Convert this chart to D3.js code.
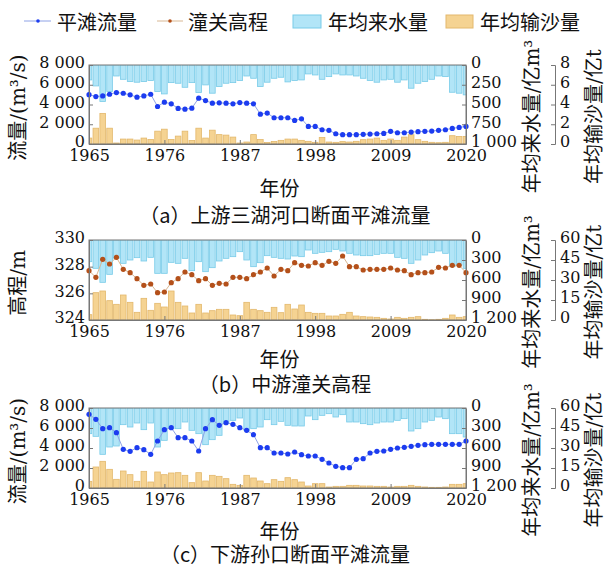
<!DOCTYPE html>
<html><head><meta charset="utf-8">
<script src="https://cdn.jsdelivr.net/npm/d3@7"></script>
<style>
html,body{margin:0;padding:0;background:#fff;}
</style>
</head><body>
<svg id="chart" width="608" height="567"></svg>
<script>
// ---------- data ----------
const years = d3.range(1965, 2021);
const xTicks = [1965, 1976, 1987, 1998, 2009, 2020];

// (a) 三湖河口
const flowA = [5000,4800,4870,5040,5210,5140,4975,4740,4870,5040,3800,4240,4070,3600,3530,3630,4640,4400,4130,4170,4130,4070,4200,4130,4070,3020,3130,2660,2660,2660,2390,2550,1780,1780,1445,1380,1040,940,940,940,975,1010,1040,1075,1280,1140,1140,1210,1245,1280,1310,1380,1445,1580,1680,1780];
const waterA = [189,265,462,336,139,181,210,218,210,197,336,366,223,231,282,223,349,252,357,273,231,223,197,139,168,273,218,168,155,214,197,189,113,126,181,147,113,126,126,139,168,197,218,189,181,218,189,294,231,210,181,139,147,345,357,378];
const sedA = [0.6,1.6,3.1,1.6,0.1,0.5,0.5,0.4,0.6,0.45,1.3,1.5,0.45,0.8,1.3,0.35,1.6,0.6,1.4,0.95,0.9,0.7,0.1,0.2,0.95,0.45,0.15,0.25,0.37,0.5,0.5,0.37,0.27,0.17,0.67,0.2,0.17,0.24,0.2,0.27,0.44,0.5,0.6,0.37,0.5,0.37,0.7,0.94,0.44,0.27,0.17,0.13,0.17,0.84,0.77,0.77];

// (b) 潼关高程
const elevB = [327.7,327.2,328.55,328.2,328.7,327.8,327.55,327.1,326.6,326.7,326.05,326.1,326.8,327.1,327.6,327.4,326.95,327.1,326.6,326.75,326.7,327.2,327.2,327.1,327.4,327.6,327.9,327.3,327.8,327.7,328.3,328.1,328.05,328.3,328.1,328.4,328.25,328.8,328.0,328.0,327.75,327.8,327.8,327.8,327.9,327.75,327.7,327.4,327.55,327.55,327.6,327.95,327.9,328.1,328.1,327.55];
const waterB = [325,425,635,515,275,350,300,265,315,260,500,500,335,350,275,460,325,475,415,315,275,250,175,300,400,340,235,260,275,285,240,250,150,200,185,175,140,165,200,225,235,235,215,200,200,260,275,350,300,225,190,165,200,400,375,425];
const sedB = [4,20.5,21.75,14.5,11.75,18.75,13.25,5.75,16.25,7.25,12.5,9.75,21.75,13.25,10.5,5.25,11.75,5.25,7,8,8,3.75,3.25,13.25,8,7,5.75,9.5,5.5,11.75,8.25,11.25,5.75,5,5,3,3,4.25,5.75,3,2.5,2.25,2,1.25,0.75,2,1.25,2,2.5,0.5,0.25,0.5,1.25,3.75,2,2.5];

// (c) 孙口
const flowC = [7370,6870,5930,6030,5530,3870,3670,4030,3830,3370,4700,5830,6030,5030,5030,4700,3700,5930,6830,6270,6530,6370,6030,5770,5330,4030,4030,3500,3500,3400,3600,3330,3200,3200,2870,2500,2170,2030,2030,2870,2930,3500,3670,3700,3870,4000,4070,4170,4270,4330,4370,4370,4370,4370,4370,4700];
const waterC = [385,425,695,585,570,250,285,225,325,225,585,485,310,310,210,335,385,550,475,410,235,185,150,335,310,285,175,250,200,260,270,270,120,175,110,85,135,100,210,210,235,250,225,210,210,185,160,345,310,210,185,135,160,385,385,435];
const sedC = [5,15.75,20,14,6.5,12.75,10,5,12.5,4.5,12,10,11.25,11.5,9.5,4,11.5,5.25,9.5,8.75,7,2.75,2,9.5,7.5,5.25,3.25,6.25,5,7.75,6.25,4.5,1.5,3.25,3.25,0.75,1.25,1.25,2,2,1.5,1.5,1.25,1.25,0.75,1.25,1.25,2,1.25,0.75,0.5,0.5,0.75,2.75,2.75,3.25];

// tick values
const flowTicks = [0, 2000, 4000, 6000, 8000];
const elevTicks = [324, 326, 328, 330];
const waterTicksA = [0, 250, 500, 750, 1000];
const waterTicksBC = [0, 300, 600, 900, 1200];
const sedTicksA = [0, 2, 4, 6, 8];
const sedTicksBC = [0, 15, 30, 45, 60];

// text
const legendNames = ["平滩流量", "潼关高程", "年均来水量", "年均输沙量"];
const captions = ["（a）上游三湖河口断面平滩流量", "（b）中游潼关高程", "（c）下游孙口断面平滩流量"];
const leftTitles = ["流量/(m³/s)", "高程/m", "流量/(m³/s)"];
const waterTitle = "年均来水量/亿m³";
const sedTitle = "年均输沙量/亿t";
const xTitle = "年份";

// ---------- layout & style ----------
const FONT = "'DejaVu Serif','Noto Sans CJK SC',serif";
const CJK = "'Noto Sans CJK SC','DejaVu Serif',sans-serif";
const C = {
  blueFill: "#b2e5f7", blueStroke: "#78cbe8",
  orFill: "#f5d392", orStroke: "#e3b86c",
  flowDot: "#1c3cf0", flowLine: "#8ea2e6",
  elevDot: "#b4501a", elevLine: "#d8b793",
  axis: "#777"
};
const L = 89, R = 466, AX2 = 555;
const panels = [
  {top: 65, bottom: 144, left: [0, 8000], leftTicks: flowTicks, wDom: [0, 1000], wTicks: waterTicksA, sDom: [0, 8], sTicks: sedTicksA,
   line: flowA, water: waterA, sed: sedA, dot: C.flowDot, lc: C.flowLine, xTitleY: 187, capY: 214},
  {top: 240, bottom: 320, left: [324, 330], leftTicks: elevTicks, wDom: [0, 1200], wTicks: waterTicksBC, sDom: [0, 60], sTicks: sedTicksBC,
   line: elevB, water: waterB, sed: sedB, dot: C.elevDot, lc: C.elevLine, xTitleY: 358, capY: 383},
  {top: 408, bottom: 488, left: [0, 8000], leftTicks: flowTicks, wDom: [0, 1200], wTicks: waterTicksBC, sDom: [0, 60], sTicks: sedTicksBC,
   line: flowC, water: waterC, sed: sedC, dot: C.flowDot, lc: C.flowLine, xTitleY: 530, capY: 553}
];

const svg = d3.select("#chart");
const fmt = d => d3.format(",")(d).replace(/,/g, " ");
const x = d3.scaleLinear().domain([1965, 2020]).range([L, R]);
const step = x(1966) - x(1965);
const bw = step * 0.82;

panels.forEach((p, pi) => {
  const g = svg.append("g");
  const yL = d3.scaleLinear().domain(p.left).range([p.bottom, p.top]);
  const yW = d3.scaleLinear().domain(p.wDom).range([p.top, p.bottom]);
  const yS = d3.scaleLinear().domain(p.sDom).range([p.bottom, p.top]);

  const cid = "clip" + pi;
  svg.append("clipPath").attr("id", cid).append("rect")
    .attr("x", L).attr("y", p.top).attr("width", R - L).attr("height", p.bottom - p.top);

  const bars = g.append("g").attr("clip-path", `url(#${cid})`);
  bars.selectAll(".w").data(p.water).join("rect")
    .attr("x", (d, i) => x(years[i]) - bw / 2).attr("width", bw)
    .attr("y", yW(0)).attr("height", d => yW(d) - yW(0))
    .attr("fill", C.blueFill).attr("stroke", C.blueStroke).attr("stroke-width", 0.8);
  bars.selectAll(".s").data(p.sed).join("rect")
    .attr("x", (d, i) => x(years[i]) - bw / 2).attr("width", bw)
    .attr("y", d => yS(d)).attr("height", d => yS(0) - yS(d))
    .attr("fill", C.orFill).attr("stroke", C.orStroke).attr("stroke-width", 0.8);

  // frame
  g.append("rect").attr("x", L).attr("y", p.top).attr("width", R - L).attr("height", p.bottom - p.top)
    .attr("fill", "none").attr("stroke", C.axis).attr("stroke-width", 1);

  // line + dots
  const lineGen = d3.line().x((d, i) => x(years[i])).y(d => yL(d));
  g.append("path").datum(p.line).attr("d", lineGen)
    .attr("fill", "none").attr("stroke", p.lc).attr("stroke-width", 1);
  g.selectAll(".pt").data(p.line).join("circle")
    .attr("cx", (d, i) => x(years[i])).attr("cy", d => yL(d)).attr("r", 2.6)
    .attr("fill", p.dot);

  const styleAxis = (a, vertical) => {
    a.selectAll("path,line").attr("stroke", C.axis);
    a.selectAll("text").attr("font-family", FONT).attr("font-size", 16).attr("fill", "#111");
    if (vertical) a.selectAll("text").attr("dy", "0.18em");
  };
  // left axis
  const aL = g.append("g").attr("transform", `translate(${L},0)`)
    .call(d3.axisLeft(yL).tickValues(p.leftTicks).tickFormat(fmt).tickSizeInner(-4).tickSizeOuter(0).tickPadding(4));
  styleAxis(aL, true);
  // bottom axis
  const aB = g.append("g").attr("transform", `translate(0,${p.bottom})`)
    .call(d3.axisBottom(x).tickValues(xTicks).tickFormat(d3.format("d")).tickSizeInner(-4).tickSizeOuter(0).tickPadding(6));
  styleAxis(aB, false);
  // right axis 1 (water)
  const aR = g.append("g").attr("transform", `translate(${R},0)`)
    .call(d3.axisRight(yW).tickValues(p.wTicks).tickFormat(fmt).tickSizeInner(-4).tickSizeOuter(0).tickPadding(5));
  styleAxis(aR, true);
  // right axis 2 (sediment)
  const aR2 = g.append("g").attr("transform", `translate(${AX2},0)`)
    .call(d3.axisRight(yS).tickValues(p.sTicks).tickFormat(d3.format("d")).tickSizeInner(-4).tickSizeOuter(-4).tickPadding(5));
  styleAxis(aR2, true);

  const cy = (p.top + p.bottom) / 2;
  // titles
  g.append("text").attr("transform", `translate(18,${cy + 3}) rotate(-90)`)
    .attr("text-anchor", "middle").attr("dominant-baseline", "central")
    .attr("font-family", FONT).attr("font-size", 20).attr("fill", "#111").text(leftTitles[pi]);
  g.append("text").attr("transform", `translate(532,${cy + 12}) rotate(-90)`)
    .attr("text-anchor", "middle").attr("dominant-baseline", "central")
    .attr("font-family", FONT).attr("font-size", 20).attr("fill", "#111").text(waterTitle);
  g.append("text").attr("transform", `translate(594,${cy + 12}) rotate(-90)`)
    .attr("text-anchor", "middle").attr("dominant-baseline", "central")
    .attr("font-family", FONT).attr("font-size", 20).attr("fill", "#111").text(sedTitle);
  g.append("text").attr("x", (L + R) / 2 + 2).attr("y", p.xTitleY)
    .attr("text-anchor", "middle").attr("dominant-baseline", "central")
    .attr("font-family", CJK).attr("font-size", 20).attr("fill", "#111").text(xTitle);
  g.append("text").attr("x", 285).attr("y", p.capY)
    .attr("text-anchor", "middle").attr("dominant-baseline", "central")
    .attr("font-family", CJK).attr("font-size", 20).attr("fill", "#111").text(captions[pi]);
});

// legend
const lg = svg.append("g");
const ly = 21;
const lineItems = [
  {x0: 24, x1: 51, dx: 38, tx: 57, lc: C.flowLine, dc: C.flowDot, name: legendNames[0]},
  {x0: 157, x1: 183, dx: 170, tx: 188, lc: C.elevLine, dc: C.elevDot, name: legendNames[1]}
];
lineItems.forEach(it => {
  lg.append("line").attr("x1", it.x0).attr("x2", it.x1).attr("y1", ly).attr("y2", ly)
    .attr("stroke", it.lc).attr("stroke-width", 1);
  lg.append("circle").attr("cx", it.dx).attr("cy", ly).attr("r", 1.8).attr("fill", it.dc);
  lg.append("text").attr("x", it.tx).attr("y", ly).attr("dominant-baseline", "central")
    .attr("font-family", CJK).attr("font-size", 20).attr("fill", "#111").text(it.name);
});
const rectItems = [
  {x: 293, w: 28, tx: 328, f: C.blueFill, s: C.blueStroke, name: legendNames[2]},
  {x: 446, w: 27, tx: 480, f: C.orFill, s: C.orStroke, name: legendNames[3]}
];
rectItems.forEach(it => {
  lg.append("rect").attr("x", it.x).attr("y", 15).attr("width", it.w).attr("height", 13)
    .attr("fill", it.f).attr("stroke", it.s).attr("stroke-width", 1);
  lg.append("text").attr("x", it.tx).attr("y", ly).attr("dominant-baseline", "central")
    .attr("font-family", CJK).attr("font-size", 20).attr("fill", "#111").text(it.name);
});
</script>
</body></html>
